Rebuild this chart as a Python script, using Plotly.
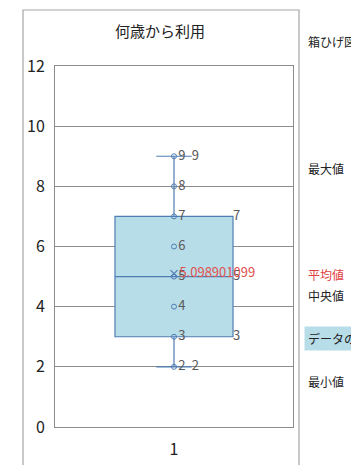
import plotly.graph_objects as go

# data
category = [1]
points = [2, 3, 4, 5, 6, 7, 8, 9]
q1 = [3]
median = [5]
q3 = [7]
minimum = [2]
maximum = [9]
mean = [5.098901099]
title = "何歳から利用"
side_labels = ["箱ひげ図", "最大値", "平均値", "中央値", "データの範囲", "最小値"]

W, H = 351, 465
L, R, T, B = 55, 58, 66, 38
plot_h = H - T - B
plot_w = W - L - R

box_width = 0.496
whisker_frac = 0.3
line_col = "#4F7DB3"
fill_col = "#B7DDE8"
label_col = "#595959"
font_family = "Noto Sans CJK JP, Noto Sans, sans-serif"

fig = go.Figure()
fig.add_trace(go.Box(
    x=category, q1=q1, median=median, q3=q3,
    lowerfence=minimum, upperfence=maximum,
    width=box_width, whiskerwidth=whisker_frac,
    fillcolor=fill_col, line=dict(color=line_col, width=1.2),
    boxpoints=False, showlegend=False, hoverinfo="skip",
))

# data points with labels
fig.add_trace(go.Scatter(
    x=[category[0]] * len(points), y=points, mode="markers+text",
    marker=dict(symbol="circle-open", size=5, color=line_col, line=dict(width=1)),
    text=[str(p) for p in points], textposition="middle right",
    textfont=dict(size=13, color=label_col, family=font_family),
    showlegend=False, hoverinfo="skip", cliponaxis=False,
))

# box edge labels
cap_x = category[0] + box_width * whisker_frac / 2
box_x = category[0] + box_width / 2
fig.add_trace(go.Scatter(
    x=[box_x] * 3, y=[q3[0], median[0], q1[0]], mode="text",
    text=[str(q3[0]), str(median[0]), str(q1[0])], textposition="middle right",
    textfont=dict(size=13, color=label_col, family=font_family),
    showlegend=False, hoverinfo="skip", cliponaxis=False,
))
fig.add_trace(go.Scatter(
    x=[cap_x] * 2, y=[maximum[0], minimum[0]], mode="text",
    text=[str(maximum[0]), str(minimum[0])], textposition="middle right",
    textfont=dict(size=13, color=label_col, family=font_family),
    showlegend=False, hoverinfo="skip", cliponaxis=False,
))

# mean marker
fig.add_trace(go.Scatter(
    x=category, y=mean, mode="markers+text",
    marker=dict(symbol="x-thin-open", size=7, color=line_col, line=dict(width=1.2, color=line_col)),
    text=[f"{mean[0]:.9f}"], textposition="middle right",
    textfont=dict(size=13, color="#E05252", family=font_family),
    showlegend=False, hoverinfo="skip", cliponaxis=False,
))

def py2paper(py):
    return (H - B - py) / plot_h

def px2paper(px):
    return (px - L) / plot_w

# outer chart border
fig.add_shape(type="rect", xref="paper", yref="paper",
              x0=px2paper(23), x1=px2paper(299), y0=py2paper(480), y1=py2paper(10),
              line=dict(color="#A6A6A6", width=1.2), layer="below")

# title
fig.add_annotation(text=title, xref="paper", yref="paper", x=px2paper(160), y=py2paper(30),
                   xanchor="center", yanchor="middle",
                   showarrow=False, font=dict(size=15, color="#222", family=font_family))

# side labels
side_y = [42, 168, 274, 295, 338, 381]
side_colors = ["#222", "#222", "#E04040", "#222", "#222", "#222"]
for lab, yy, cc in zip(side_labels, side_y, side_colors):
    fig.add_annotation(text=lab, xref="paper", yref="paper", x=px2paper(304), y=py2paper(yy),
                       xanchor="left", yanchor="middle", showarrow=False,
                       font=dict(size=12, color=cc, family=font_family),
                       bgcolor=fill_col if lab.startswith("データ") else None,
                       borderpad=3)

fig.update_layout(
    width=W, height=H, margin=dict(l=L, r=R, t=T, b=B),
    paper_bgcolor="white", plot_bgcolor="white",
    font=dict(family=font_family),
    xaxis=dict(range=[0.5, 1.5], tickvals=category, ticktext=[str(c) for c in category],
               showgrid=False, zeroline=False, showline=True, linecolor="#8C8C8C",
               mirror=True, ticks="", ticklabelstandoff=8, automargin=False,
               tickfont=dict(size=16, color="#222")),
    yaxis=dict(range=[0, 12], dtick=2, showgrid=True, gridcolor="#8C8C8C", gridwidth=1,
               zeroline=False, showline=True, linecolor="#8C8C8C", mirror=True,
               ticks="", ticklabelstandoff=6, automargin=False,
               tickfont=dict(size=16, color="#222")),
)

fig.write_html("out.html")
